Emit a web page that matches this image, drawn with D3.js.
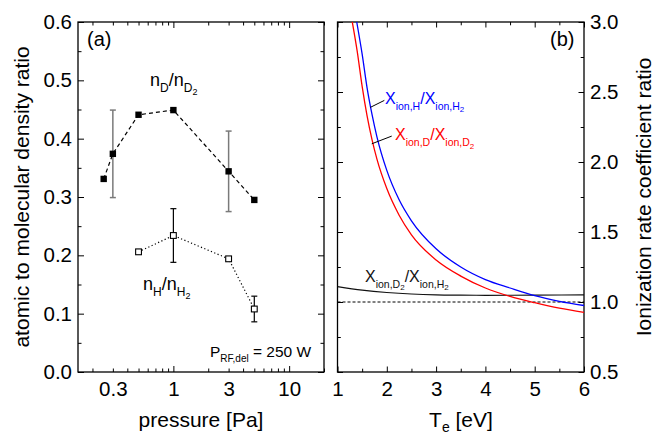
<!DOCTYPE html>
<html>
<head>
<meta charset="utf-8">
<script src="https://cdn.jsdelivr.net/npm/d3@7"></script>
<style>
  html, body { margin: 0; padding: 0; background: #fff; }
  svg { display: block; font-family: "Liberation Sans", Arial, Helvetica, sans-serif; }
</style>
</head>
<body>
<svg id="chart" width="664" height="434"></svg>
<script>
// ---- (a) atomic to molecular density ratio vs. pressure ----
const pressureD = [0.25, 0.3, 0.5, 1, 3, 5];
const ratioD    = [0.331, 0.374, 0.441, 0.449, 0.344, 0.295];
const errD      = [0, 0.075, 0, 0, 0.069, 0];

const pressureH = [0.5, 1, 3, 5];
const ratioH    = [0.206, 0.234, 0.194, 0.108];
const errH      = [0, 0.046, 0, 0.022];

const pressureLabels = [0.3, 1, 3, 10];
const pressureMajor  = [1, 10];
const pressureMinor  = [0.2, 0.3, 0.4, 0.5, 0.6, 0.7, 0.8, 0.9, 2, 3, 4, 5, 6, 7, 8, 9, 20];
const densityTicks   = [0.0, 0.1, 0.2, 0.3, 0.4, 0.5, 0.6];
const densityMinor   = [0.05, 0.15, 0.25, 0.35, 0.45, 0.55];

// ---- (b) ionization rate coefficient ratios vs. electron temperature ----
const teH  = [1.39, 1.5, 1.6, 1.7, 1.8, 2.0, 2.25, 2.5, 3.0, 3.5, 4.0, 4.5, 5.0, 5.5, 6.0];
const ionH = [3.00, 2.77, 2.53, 2.34, 2.18, 1.94, 1.73, 1.58, 1.38, 1.25, 1.16, 1.10, 1.045, 1.005, 0.975];

const teD  = [1.30, 1.4, 1.5, 1.6, 1.7, 1.8, 2.0, 2.25, 2.5, 3.0, 3.5, 4.0, 4.5, 5.0, 5.5, 6.0];
const ionD = [3.00, 2.79, 2.54, 2.33, 2.16, 2.02, 1.81, 1.62, 1.48, 1.30, 1.185, 1.10, 1.04, 0.995, 0.956, 0.926];

const teMol  = [1.0, 1.5, 2.0, 2.5, 3.0, 3.5, 4.0, 5.0, 6.0];
const ionMol = [1.11, 1.085, 1.068, 1.057, 1.051, 1.049, 1.048, 1.049, 1.051];

const unityTe  = [1, 6];
const unityVal = [1.0, 1.0];

const teTicks  = [1, 2, 3, 4, 5, 6];
const teMinor  = [1.5, 2.5, 3.5, 4.5, 5.5];
const ionTicks = [0.5, 1.0, 1.5, 2.0, 2.5, 3.0];
const ionMinor = [0.75, 1.25, 1.75, 2.25, 2.75];

// ---- layout ----
const svg = d3.select("#chart");
const plotTop = 22, plotBottom = 372;
const tickFont = 20.5, titleFont = 21;

const xP = d3.scaleLog().domain([0.15, 20]).range([78, 324]);
const yP = d3.scaleLinear().domain([0, 0.6]).range([plotBottom, plotTop]);
const xT = d3.scaleLinear().domain([1, 6]).range([337.5, 584]);
const yT = d3.scaleLinear().domain([0.5, 3.0]).range([plotBottom, plotTop]);

// inside ticks on all four sides of a panel
function frameTicks(x, y, xMaj, xMin, yMaj, yMin, majLen, minLen) {
  const [x0, x1] = x.range();
  const g = svg.append("g");
  const add = (axis, tr) => {
    const a = g.append("g").attr("transform", tr).call(axis);
    a.select(".domain").remove();
    a.selectAll("text").remove();
    a.selectAll("line").attr("stroke", "#000").attr("stroke-width", 1);
  };
  add(d3.axisBottom(x).tickValues(xMaj).tickSizeInner(-majLen).tickSizeOuter(0), `translate(0,${plotBottom})`);
  add(d3.axisBottom(x).tickValues(xMin).tickSizeInner(-minLen).tickSizeOuter(0), `translate(0,${plotBottom})`);
  add(d3.axisTop(x).tickValues(xMaj).tickSizeInner(-majLen).tickSizeOuter(0), `translate(0,${plotTop})`);
  add(d3.axisTop(x).tickValues(xMin).tickSizeInner(-minLen).tickSizeOuter(0), `translate(0,${plotTop})`);
  add(d3.axisLeft(y).tickValues(yMaj).tickSizeInner(-majLen).tickSizeOuter(0), `translate(${x0},0)`);
  add(d3.axisLeft(y).tickValues(yMin).tickSizeInner(-minLen).tickSizeOuter(0), `translate(${x0},0)`);
  add(d3.axisRight(y).tickValues(yMaj).tickSizeInner(-majLen).tickSizeOuter(0), `translate(${x1},0)`);
  add(d3.axisRight(y).tickValues(yMin).tickSizeInner(-minLen).tickSizeOuter(0), `translate(${x1},0)`);
  svg.append("rect")
    .attr("x", x0).attr("y", plotTop)
    .attr("width", x1 - x0).attr("height", plotBottom - plotTop)
    .attr("fill", "none").attr("stroke", "#000").attr("stroke-width", 1.3);
}

function labelAxis(axis, tr, anchor) {
  const a = svg.append("g").attr("transform", tr).call(axis);
  a.attr("font-family", null).attr("font-size", null);
  a.select(".domain").remove();
  a.selectAll("line").remove();
  a.selectAll("text").attr("font-size", tickFont).attr("fill", "#000");
  if (anchor) a.selectAll("text").attr("text-anchor", anchor);
  return a;
}

// text with subscripts: parts = [text, size, baseline offset]
function rich(x, y, parts, fill, anchor) {
  const t = svg.append("text").attr("x", x).attr("y", y)
    .attr("fill", fill || "#000").attr("text-anchor", anchor || "start");
  let prev = 0;
  parts.forEach(([s, size, off]) => {
    t.append("tspan").attr("font-size", size).attr("dy", off - prev).text(s);
    prev = off;
  });
  return t;
}

// ======== panel (a) ========
frameTicks(xP, yP, pressureMajor, pressureMinor, densityTicks, densityMinor, 6, 3.5);

labelAxis(d3.axisBottom(xP).tickValues(pressureLabels).tickSize(0).tickPadding(9)
  .tickFormat(d3.format("~g")), `translate(0,${plotBottom})`);
labelAxis(d3.axisLeft(yP).tickValues(densityTicks).tickSize(0).tickPadding(6)
  .tickFormat(d3.format(".1f")), `translate(${xP.range()[0]},0)`);

const dataD = pressureD.map((p, i) => ({ p, v: ratioD[i], e: errD[i] }));
const dataH = pressureH.map((p, i) => ({ p, v: ratioH[i], e: errH[i] }));

const lineP = d3.line().x(d => xP(d.p)).y(d => yP(d.v));

svg.append("path").datum(dataD).attr("d", lineP)
  .attr("fill", "none").attr("stroke", "#000").attr("stroke-width", 1.2)
  .attr("stroke-dasharray", "4,3");
svg.append("path").datum(dataH).attr("d", lineP)
  .attr("fill", "none").attr("stroke", "#000").attr("stroke-width", 1.2)
  .attr("stroke-dasharray", "1.2,2.4");

function errorBars(data, color, width) {
  const g = svg.append("g").attr("stroke", color).attr("stroke-width", width).attr("fill", "none");
  data.filter(d => d.e > 0).forEach(d => {
    const cx = xP(d.p), y1 = yP(d.v + d.e), y2 = yP(d.v - d.e);
    g.append("line").attr("x1", cx).attr("x2", cx).attr("y1", y1).attr("y2", y2);
    g.append("line").attr("x1", cx - 3).attr("x2", cx + 3).attr("y1", y1).attr("y2", y1);
    g.append("line").attr("x1", cx - 3).attr("x2", cx + 3).attr("y1", y2).attr("y2", y2);
  });
}
errorBars(dataD, "#7a7a7a", 1.5);
errorBars(dataH, "#000", 1.2);

svg.append("g").selectAll("rect").data(dataD).join("rect")
  .attr("x", d => xP(d.p) - 3.2).attr("y", d => yP(d.v) - 3.2)
  .attr("width", 6.4).attr("height", 6.4).attr("fill", "#000");
svg.append("g").selectAll("rect").data(dataH).join("rect")
  .attr("x", d => xP(d.p) - 2.9).attr("y", d => yP(d.v) - 2.9)
  .attr("width", 5.8).attr("height", 5.8).attr("fill", "#fff")
  .attr("stroke", "#000").attr("stroke-width", 1.1);

svg.append("text").attr("x", 87).attr("y", 46).attr("font-size", 20).text("(a)");
rich(150, 86, [["n", 18, 0], ["D", 12, 6], ["/", 18, 0], ["n", 18, 0], ["D", 12, 6], ["2", 9, 9]]);
rich(143, 290, [["n", 18, 0], ["H", 12, 6], ["/", 18, 0], ["n", 18, 0], ["H", 12, 6], ["2", 9, 9]]);
rich(210, 356.5, [["P", 15.5, 0], ["RF,del", 10, 5], [" = 250 W", 15.5, 0]]);

rich(201, 427, [["pressure [Pa]", titleFont, 0]], "#000", "middle");
svg.append("text")
  .attr("transform", `translate(29,197) rotate(-90)`)
  .attr("text-anchor", "middle").attr("font-size", titleFont)
  .text("atomic to molecular density ratio");

// ======== panel (b) ========
svg.append("defs").append("clipPath").attr("id", "clipB")
  .append("rect").attr("x", xT.range()[0]).attr("y", plotTop)
  .attr("width", xT.range()[1] - xT.range()[0]).attr("height", plotBottom - plotTop);

frameTicks(xT, yT, teTicks, teMinor, ionTicks, ionMinor, 5.5, 3.3);

labelAxis(d3.axisBottom(xT).tickValues(teTicks).tickSize(0).tickPadding(9)
  .tickFormat(d3.format("d")), `translate(0,${plotBottom})`);
labelAxis(d3.axisRight(yT).tickValues(ionTicks).tickSize(0).tickPadding(6)
  .tickFormat(d3.format(".1f")), `translate(${xT.range()[1]},0)`);

const lineT = d3.line().x(d => xT(d[0])).y(d => yT(d[1])).curve(d3.curveMonotoneX);
const plotB = svg.append("g").attr("clip-path", "url(#clipB)");

plotB.append("path").datum(d3.zip(unityTe, unityVal)).attr("d", lineT)
  .attr("fill", "none").attr("stroke", "#000").attr("stroke-width", 1)
  .attr("stroke-dasharray", "3,2");
plotB.append("path").datum(d3.zip(teMol, ionMol)).attr("d", lineT)
  .attr("fill", "none").attr("stroke", "#111").attr("stroke-width", 1.2);
plotB.append("path").datum(d3.zip(teD, ionD)).attr("d", lineT)
  .attr("fill", "none").attr("stroke", "#ff0000").attr("stroke-width", 1.3);
plotB.append("path").datum(d3.zip(teH, ionH)).attr("d", lineT)
  .attr("fill", "none").attr("stroke", "#0000ff").attr("stroke-width", 1.3);

// leader lines from the curves to their labels (data units)
const leaders = [
  [[1.665, 2.39], [1.95, 2.44]],
  [[1.695, 2.13], [2.10, 2.185]]
];
svg.append("g").selectAll("line").data(leaders).join("line")
  .attr("x1", d => xT(d[0][0])).attr("y1", d => yT(d[0][1]))
  .attr("x2", d => xT(d[1][0])).attr("y2", d => yT(d[1][1]))
  .attr("stroke", "#000").attr("stroke-width", 1);

rich(385, 103.5, [["X", 16, 0], ["ion,H", 10.5, 6], ["/", 16, 0], ["X", 16, 0], ["ion,H", 10.5, 6], ["2", 8, 8.5]], "#0000ff");
rich(395, 140, [["X", 16, 0], ["ion,D", 10.5, 6], ["/", 16, 0], ["X", 16, 0], ["ion,D", 10.5, 6], ["2", 8, 8.5]], "#ff0000");
rich(365, 281.5, [["X", 16, 0], ["ion,D", 10.5, 6], ["2", 8, 8.5], ["/", 16, 0], ["X", 16, 0], ["ion,H", 10.5, 6], ["2", 8, 8.5]], "#111");

svg.append("text").attr("x", 550).attr("y", 46).attr("font-size", 20).text("(b)");

rich(461, 427, [["T", titleFont, 0], ["e", 14, 5], [" [eV]", titleFont, 0]], "#000", "middle");
svg.append("text")
  .attr("transform", `translate(651,197) rotate(-90)`)
  .attr("text-anchor", "middle").attr("font-size", titleFont)
  .text("Ionization rate coefficient ratio");
</script>
</body>
</html>
